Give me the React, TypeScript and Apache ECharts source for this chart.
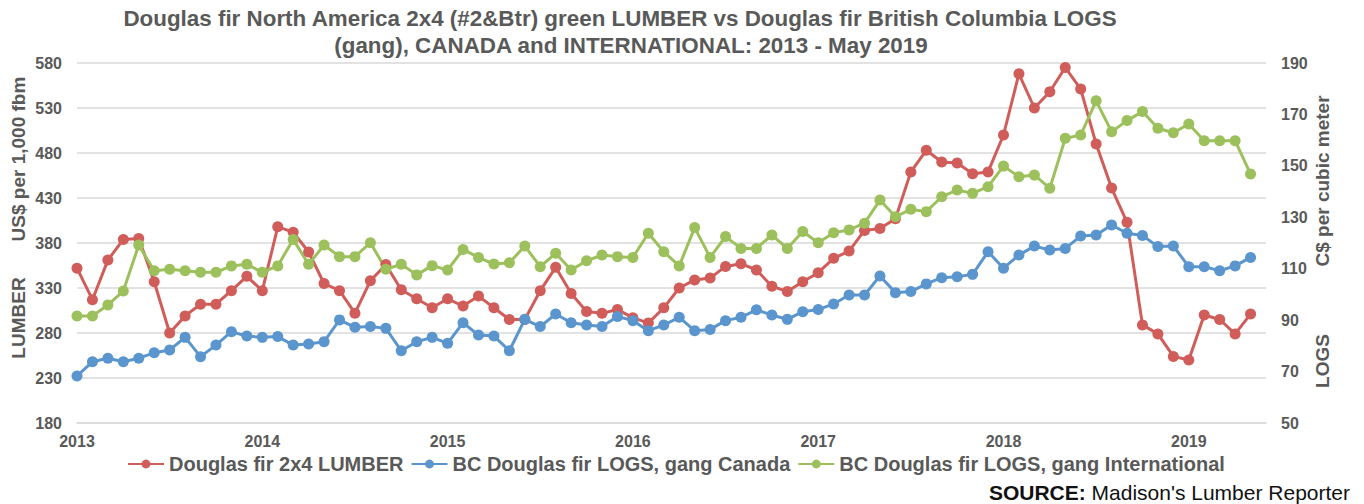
import React, { useEffect, useRef } from "react";
import * as echarts from "echarts";

const YEARS = ["2013", "2014", "2015", "2016", "2017", "2018", "2019"];
const MONTH_NUMS = ["01", "02", "03", "04", "05", "06", "07", "08", "09", "10", "11", "12"];
// Jan 2013 .. Jun 2019 (last category is empty, it only pads the axis)
const MONTHS: string[] = [];
YEARS.forEach((y) => MONTH_NUMS.forEach((m) => MONTHS.push(y + "-" + m)));
const CATEGORIES = MONTHS.slice(0, 78);

const LUMBER = [
  352, 317, 361, 384, 385, 337, 280, 299, 312, 312, 327, 343,
  327, 398, 392, 370, 335, 327, 302, 338, 356, 328, 318, 308,
  318, 310, 321, 308, 295, 295, 327, 353, 324, 304, 302, 306,
  297, 291, 308, 330, 339, 341, 354, 357, 350, 332, 326, 337,
  347, 363, 371, 394, 396, 407, 459, 483, 470, 469, 457, 459,
  500, 568, 530, 548, 575, 551, 490, 441, 403, 289, 279, 254,
  250, 300, 295, 279, 301,
];

const LOGS_CANADA = [
  68.3, 73.8, 75.2, 73.8, 75.2, 77.3, 78.4, 83.3, 75.8, 80.3, 85.5, 83.8,
  83.3, 83.6, 80.3, 80.7, 81.6, 90.1, 87.2, 87.5, 86.8, 78.1, 81.6, 83.3,
  81.0, 89.0, 84.2, 83.8, 78.1, 90.3, 87.5, 92.4, 89.0, 88.1, 87.5, 91.4,
  89.8, 85.9, 88.1, 91.1, 85.9, 86.4, 89.8, 91.1, 94.0, 92.0, 90.3, 93.3,
  94.1, 96.3, 99.8, 99.8, 107.2, 100.7, 101.1, 104.1, 106.5, 106.9, 107.8, 116.6,
  110.2, 115.3, 118.8, 117.3, 117.9, 122.7, 123.1, 127.0, 123.8, 122.9, 118.6, 118.8,
  110.8, 110.8, 109.2, 111.1, 114.4,
];

const LOGS_INTL = [
  91.6, 91.6, 95.9, 101.3, 119.2, 109.2, 109.8, 109.2, 108.6, 108.6, 111.1, 111.7,
  108.6, 111.1, 121.4, 111.7, 119.2, 114.7, 114.7, 120.1, 109.8, 111.7, 107.6, 111.2,
  109.5, 117.5, 114.4, 111.8, 112.3, 118.8, 110.8, 116.0, 109.5, 113.1, 115.3, 114.7,
  114.4, 123.8, 116.6, 111.1, 126.0, 114.4, 122.5, 117.9, 117.9, 123.1, 117.9, 124.5,
  120.1, 124.0, 125.1, 127.7, 136.7, 130.2, 133.1, 132.2, 138.0, 140.6, 139.3, 141.9,
  149.9, 145.8, 146.4, 141.3, 160.7, 162.0, 175.3, 163.3, 167.6, 171.1, 164.6, 162.9,
  166.3, 159.8, 159.8, 159.8, 146.8,
];

const SERIES_NAMES = [
  "Douglas fir 2x4 LUMBER",
  "BC Douglas fir LOGS, gang Canada",
  "BC Douglas fir LOGS, gang International",
];
const COLORS = ["#D05D59", "#5A95CE", "#9CC05B"];

const TITLE_LINES = [
  "Douglas fir North America 2x4 (#2&Btr) green LUMBER vs Douglas fir British Columbia LOGS",
  "(gang), CANADA and INTERNATIONAL: 2013 - May 2019",
];

const FONT = '"Liberation Sans", Arial, sans-serif';
const GRAY = "#595959";

export default function App() {
  const ref = useRef<HTMLDivElement>(null);

  useEffect(() => {
    if (!ref.current) return;
    const chart = echarts.init(ref.current, undefined, { renderer: "svg" });

    const axisLabel = {
      color: GRAY,
      fontWeight: "bold",
      fontSize: 16,
      fontFamily: FONT,
    };

    const mkSeries = (name: string, data: number[], color: string, yAxisIndex: number) => ({
      name,
      type: "line",
      yAxisIndex,
      data,
      symbol: "circle",
      symbolSize: 11,
      showSymbol: true,
      showAllSymbol: true,
      lineStyle: { color, width: 3 },
      itemStyle: { color },
      emphasis: { disabled: true },
    });

    const option: any = {
      animation: false,
      grid: { left: 77, right: 98, top: 63, bottom: 81 },
      legend: {
        left: 122,
        top: 449,
        itemWidth: 36,
        itemHeight: 11,
        itemGap: 7,
        data: SERIES_NAMES,
        textStyle: { color: GRAY, fontWeight: "bold", fontSize: 20, fontFamily: FONT },
      },
      xAxis: {
        type: "category",
        data: CATEGORIES,
        boundaryGap: false,
        axisLine: { lineStyle: { color: "#d9d9d9", width: 1.5 } },
        axisTick: { show: false },
        axisLabel: {
          ...axisLabel,
          margin: 10,
          interval: (_i: number, v: string) => v.endsWith("-01"),
          formatter: (v: string) => v.slice(0, 4),
        },
        splitLine: { show: false },
      },
      yAxis: [
        {
          type: "value",
          position: "left",
          min: 180,
          max: 580,
          interval: 50,
          axisLine: { show: false },
          axisTick: { show: false },
          axisLabel: { ...axisLabel, margin: 15 },
          splitLine: { lineStyle: { color: "#d9d9d9", width: 1.5 } },
        },
        {
          type: "value",
          position: "right",
          min: 50,
          max: 190,
          interval: 20,
          axisLine: { show: false },
          axisTick: { show: false },
          axisLabel: { ...axisLabel, margin: 15 },
          splitLine: { show: false },
        },
      ],
      series: [
        mkSeries(SERIES_NAMES[0], LUMBER, COLORS[0], 0),
        mkSeries(SERIES_NAMES[1], LOGS_CANADA, COLORS[1], 1),
        mkSeries(SERIES_NAMES[2], LOGS_INTL, COLORS[2], 1),
      ],
      graphic: [
        {
          type: "text",
          x: 620,
          y: 18,
          style: {
            text: TITLE_LINES[0],
            font: "bold 22.4px " + FONT,
            fill: GRAY,
            align: "center",
            verticalAlign: "middle",
          },
        },
        {
          type: "text",
          x: 631,
          y: 45,
          style: {
            text: TITLE_LINES[1],
            font: "bold 22.4px " + FONT,
            fill: GRAY,
            align: "center",
            verticalAlign: "middle",
          },
        },
        {
          type: "text",
          x: 18,
          y: 159,
          rotation: Math.PI / 2,
          style: {
            text: "US$ per 1,000 fbm",
            font: "bold 19px " + FONT,
            fill: GRAY,
            align: "center",
            verticalAlign: "middle",
          },
        },
        {
          type: "text",
          x: 18,
          y: 318,
          rotation: Math.PI / 2,
          style: {
            text: "LUMBER",
            font: "bold 19px " + FONT,
            fill: GRAY,
            align: "center",
            verticalAlign: "middle",
          },
        },
        {
          type: "text",
          x: 1322,
          y: 181,
          rotation: Math.PI / 2,
          style: {
            text: "C$ per cubic meter",
            font: "bold 19px " + FONT,
            fill: GRAY,
            align: "center",
            verticalAlign: "middle",
          },
        },
        {
          type: "text",
          x: 1322,
          y: 361,
          rotation: Math.PI / 2,
          style: {
            text: "LOGS",
            font: "bold 19px " + FONT,
            fill: GRAY,
            align: "center",
            verticalAlign: "middle",
          },
        },
        {
          type: "text",
          x: 1350,
          y: 492,
          style: {
            text: "{b|SOURCE:} Madison's Lumber Reporter",
            font: "21px " + FONT,
            fill: "#111",
            align: "right",
            verticalAlign: "middle",
            rich: {
              b: { fontWeight: "bold", fontSize: 21, fontFamily: FONT, fill: "#111" },
            },
          },
        },
      ],
    };

    chart.setOption(option);
    return () => chart.dispose();
  }, []);

  return (
    <div
      ref={ref}
      style={{ position: "fixed", left: 0, top: 0, width: 1364, height: 504, background: "#fff" }}
    />
  );
}
